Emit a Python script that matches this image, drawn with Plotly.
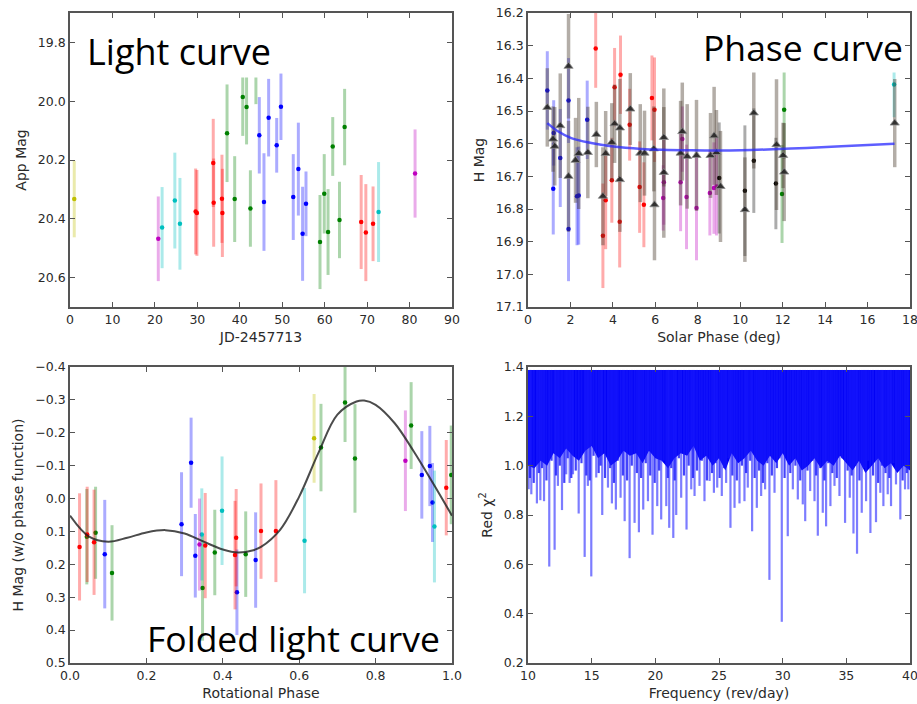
import plotly.graph_objects as go

# ---------------- Light curve: apparent magnitude vs. date ----------------
lc_jd = [1.0, 20.8, 21.7, 24.7, 25.9, 29.6, 29.9, 33.75, 33.85, 35.8, 35.9, 37.0, 38.8,
         40.7, 41.6, 42.5, 43.8, 44.6, 45.7, 46.8, 48.7, 49.7, 52.6, 53.8, 54.8, 55.6,
         58.9, 59.9, 60.8, 61.9, 63.5, 64.7, 68.6, 69.7, 71.4, 72.7, 81.3]
lc_mag = [20.333, 20.468, 20.43, 20.338, 20.417, 20.375, 20.38, 20.21, 20.345, 20.332,
          20.38, 20.109, 20.333, 19.986, 20.02, 20.365, 19.90, 20.116, 20.343, 20.056,
          20.15, 20.019, 20.326, 20.231, 20.451, 20.349, 20.479, 20.315, 20.445, 20.154,
          20.404, 20.088, 20.411, 20.447, 20.417, 20.377, 20.246]
lc_err = [0.13, 0.144, 0.138, 0.163, 0.156, 0.146, 0.146, 0.15, 0.15, 0.15, 0.15, 0.166,
          0.146, 0.132, 0.127, 0.13, 0.11, 0.13, 0.166, 0.132, 0.093, 0.113, 0.146, 0.158,
          0.16, 0.11, 0.16, 0.135, 0.146, 0.10, 0.13, 0.13, 0.16, 0.165, 0.127, 0.17, 0.15]
lc_band = ["y", "m", "c", "c", "c", "r", "r", "r", "r", "r", "r", "g", "g", "g", "g", "g",
           "g", "b", "b", "b", "b", "b", "b", "b", "b", "b", "g", "g", "g", "g", "g", "g",
           "r", "r", "r", "c", "m"]

# ---------------- Phase curve: reduced magnitude vs. solar phase ----------------
tri_alpha = [0.91, 1.18, 1.26, 1.52, 1.91, 1.91, 2.24, 2.39, 2.82, 3.22, 3.53, 3.66, 3.95,
             4.08, 4.33, 4.33, 4.82, 5.29, 5.49, 5.93, 5.96, 6.40, 6.40, 7.19, 7.27, 7.5,
             7.94, 8.60, 8.77, 8.88, 9.07, 10.22, 10.64, 11.71, 12.02, 12.07, 17.28]
tri_h = [16.489, 16.586, 16.608, 16.545, 16.363, 16.70, 16.651, 16.63, 16.627, 16.572,
         16.761, 16.63, 16.596, 16.539, 16.552, 16.71, 16.494, 16.629, 16.629, 16.616,
         16.787, 16.581, 16.688, 16.629, 16.563, 16.639, 16.636, 16.636, 16.576, 16.627,
         16.731, 16.802, 16.506, 16.603, 16.636, 16.687, 16.537]
tri_err = [0.12, 0.1, 0.12, 0.16, 0.16, 0.17, 0.13, 0.17, 0.14, 0.1, 0.15, 0.13, 0.12,
           0.12, 0.15, 0.16, 0.11, 0.15, 0.13, 0.13, 0.17, 0.15, 0.2, 0.16, 0.15, 0.16,
           0.17, 0.13, 0.15, 0.13, 0.17, 0.16, 0.17, 0.2, 0.1, 0.15, 0.135]

obs_alpha = [0.91, 1.21, 1.19, 1.52, 1.91, 1.91, 2.31, 2.39, 2.79,
             3.19, 3.53, 3.66, 3.95, 4.08, 4.36, 4.32, 4.79, 5.26, 5.46, 5.84, 5.96,
             6.37, 6.40, 7.19, 7.27, 7.47, 7.94, 8.57, 8.76, 8.88,
             11.97, 12.07, 17.25, 9.01, 10.22, 10.64, 11.68]
obs_h = [16.437, 16.567, 16.738, 16.644, 16.468, 16.861, 16.761, 16.759, 16.527,
         16.309, 16.882, 16.773, 16.712, 16.427, 16.389, 16.839, 16.542, 16.733, 16.787,
         16.46, 16.496,
         16.766, 16.718, 16.718, 16.586, 16.763, 16.797, 16.751, 16.736, 16.731,
         16.754, 16.496, 16.419, 16.705, 16.744, 16.652, 16.722]
obs_err = [0.12, 0.1, 0.14, 0.15, 0.13, 0.16, 0.15, 0.15, 0.12,
           0.12, 0.16, 0.15, 0.13, 0.12, 0.12, 0.14, 0.11, 0.14, 0.13, 0.13, 0.16,
           0.1, 0.13, 0.15, 0.1, 0.16, 0.16, 0.13, 0.14, 0.15,
           0.15, 0.15, 0.1, 0.17, 0.2, 0.16, 0.14]
obs_band = ["b"] * 9 + ["r"] * 12 + ["m"] * 9 + ["g", "g", "c", "k", "k", "k", "k"]

hg_alpha = [0.91, 1.41, 2.04, 2.98, 3.92, 5.34, 7.7, 10.05, 12.4, 14.76, 17.27]
hg_h = [16.537, 16.562, 16.583, 16.598, 16.608, 16.616, 16.620, 16.620, 16.615, 16.608, 16.600]

# ---------------- Folded light curve ----------------
fold_phase = [0.025, 0.044, 0.045, 0.063, 0.067, 0.091, 0.11, 0.292, 0.317, 0.328, 0.339,
              0.345, 0.347, 0.354, 0.379, 0.398, 0.432, 0.435, 0.437, 0.46, 0.486, 0.5,
              0.539, 0.614, 0.639, 0.657, 0.72, 0.746, 0.878, 0.893, 0.921, 0.942, 0.949,
              0.954, 0.985, 0.998]
fold_mag = [0.147, 0.116, 0.109, 0.133, 0.104, 0.169, 0.226, 0.078, -0.109, 0.174, 0.14,
            0.109, 0.272, 0.143, 0.164, 0.037, 0.172, 0.119, 0.285, 0.169, 0.187, 0.099,
            0.099, 0.128, -0.183, -0.155, -0.292, -0.122, -0.115, -0.222, -0.072, -0.099,
            0.012, 0.085, -0.033, -0.072]
fold_err = [0.163, 0.145, 0.145, 0.16, 0.14, 0.165, 0.145, 0.158, 0.137, 0.127, 0.14,
            0.14, 0.16, 0.16, 0.13, 0.165, 0.165, 0.148, 0.13, 0.13, 0.145, 0.145, 0.155,
            0.16, 0.135, 0.133, 0.12, 0.165, 0.153, 0.132, 0.133, 0.122, 0.12, 0.17,
            0.145, 0.15]
fold_band = ["r", "g", "r", "r", "g", "b", "g", "b", "b", "b", "m", "c", "g", "r", "g",
             "c", "r", "r", "b", "g", "b", "r", "r", "c", "y", "g", "g", "g", "m", "g",
             "b", "b", "b", "c", "r", "g"]

model_phase = [0, 0.05, 0.1, 0.15, 0.2, 0.25, 0.3, 0.35, 0.4, 0.44, 0.48, 0.5, 0.55, 0.6,
               0.65, 0.7, 0.75, 0.77, 0.8, 0.85, 0.9, 0.95, 1.0]
model_mag = [0.052, 0.116, 0.131, 0.119, 0.103, 0.096, 0.106, 0.131, 0.155, 0.164, 0.157,
             0.147, 0.095, -0.006, -0.138, -0.255, -0.295, -0.298, -0.285, -0.229, -0.143,
             -0.047, 0.052]

# ---------------- Periodogram: reduced chi-square vs. trial frequency ----------------
# Saturated core of the trace (floor of the dense band)
core_freq = [10, 10.5, 11, 11.5, 12, 12.5, 13, 13.5, 14, 14.5, 15, 15.5, 16, 16.5, 17,
             17.5, 18, 18.5, 19, 19.5, 20, 20.5, 21, 21.5, 22, 22.5, 23, 23.5, 24, 24.5,
             25, 25.5, 26, 26.5, 27, 27.5, 28, 28.5, 29, 29.5, 30, 30.5, 31, 31.5, 32,
             32.5, 33, 33.5, 34, 34.5, 35, 35.5, 36, 36.5, 37, 37.5, 38, 38.5, 39, 39.5, 40]
core_floor = [1.0, 0.99, 1.02, 1.0, 1.05, 1.03, 1.07, 1.04, 1.02, 1.06, 1.08, 1.03, 1.05,
              1.0, 1.02, 1.06, 1.04, 1.05, 1.01, 1.06, 1.03, 1.02, 0.99, 1.03, 1.05, 1.04,
              1.08, 1.02, 1.04, 1.0, 1.03, 0.98, 1.05, 1.01, 1.03, 1.06, 1.02, 1.0, 1.04,
              1.01, 1.05, 1.0, 1.03, 0.98, 1.0, 1.03, 0.99, 1.02, 1.0, 1.04, 1.01, 0.98,
              1.02, 0.97, 1.0, 1.03, 0.99, 1.01, 0.97, 1.0, 0.98]
core_top = 1.388
# Deep minima of the trace
dip_freq = [10.05, 10.26, 10.7, 10.97, 11.26, 11.67, 12.09, 12.35, 12.67, 13.0, 13.27,
            13.53, 13.98, 14.45, 14.7, 14.97, 15.36, 15.83, 16.28, 16.59, 16.9, 17.27,
            17.59, 17.98, 18.37, 18.71, 19.05, 19.42, 19.78, 20.15, 20.46, 20.86, 21.09,
            21.41, 21.64, 22.03, 22.45, 22.82, 23.08, 23.47, 23.86, 24.26, 24.6, 24.86,
            25.22, 25.56, 25.9, 26.22, 26.61, 27.0, 27.26, 27.6, 27.97, 28.31, 28.62,
            28.96, 29.36, 29.93, 30.4, 30.8, 31.19, 31.58, 31.77, 32.16, 32.5, 32.76,
            33.15, 33.41, 33.75, 34.07, 34.46, 34.9, 35.27, 35.56, 35.84, 36.21, 36.55,
            36.89, 37.33, 37.67, 37.91, 38.25, 38.51, 38.9, 39.24, 39.61, 39.87]
dip_chi2 = [0.904, 0.884, 0.847, 0.86, 0.856, 0.591, 0.659, 0.918, 0.82, 0.965, 0.93,
            0.965, 0.806, 0.63, 0.918, 0.551, 0.952, 0.80, 0.911, 0.847, 0.822, 0.87,
            0.775, 0.625, 0.768, 0.73, 0.822, 0.856, 0.72, 0.836, 0.782, 0.836, 0.748,
            0.707, 0.80, 0.87, 0.741, 0.904, 0.877, 0.918, 0.856, 0.938, 0.89, 0.911,
            0.877, 0.93, 0.748, 0.829, 0.847, 0.856, 0.911, 0.734, 0.829, 0.877, 0.904,
            0.537, 0.89, 0.367, 0.714, 0.904, 0.863, 0.843, 0.775, 0.897, 0.856, 0.716,
            0.809, 0.754, 0.836, 0.918, 0.877, 0.768, 0.87, 0.725, 0.643, 0.809, 0.856,
            0.727, 0.771, 0.89, 0.836, 0.884, 0.836, 0.924, 0.782, 0.904, 0.904]
# Shallower minima between the deep ones
mid_freq = [10.15, 10.45, 10.85, 11.1, 11.45, 11.85, 12.2, 12.5, 12.85, 13.12, 13.4,
            13.75, 14.2, 14.58, 14.85, 15.15, 15.55, 15.7, 16.05, 16.45, 16.75, 17.05,
            17.45, 17.78, 18.15, 18.55, 18.88, 19.25, 19.6, 19.95, 20.3, 20.65, 20.98,
            21.25, 21.52, 21.85, 22.25, 22.62, 22.95, 23.27, 23.65, 24.05, 24.45, 24.73,
            25.05, 25.4, 25.75, 26.05, 26.4, 26.8, 27.13, 27.45, 27.8, 28.15, 28.45, 28.8,
            29.15, 29.55, 29.75, 30.15, 30.6, 31.0, 31.38, 31.95, 32.33, 32.63, 32.95,
            33.28, 33.58, 33.9, 34.25, 34.68, 35.1, 35.42, 35.7, 36.03, 36.38, 36.72, 37.1,
            37.5, 37.8, 38.08, 38.38, 38.7, 39.07, 39.42, 39.75]
mid_chi2 = [0.95, 0.93, 0.97, 0.99, 0.94, 1.02, 0.96, 1.0, 0.93, 1.03, 0.95, 0.98, 1.01,
            0.96, 0.94, 1.04, 0.97, 1.0, 0.95, 0.99, 0.93, 1.02, 0.96, 0.94, 1.0, 0.97,
            0.95, 1.01, 0.96, 0.93, 0.98, 1.02, 0.95, 0.99, 0.94, 1.03, 0.96, 1.0, 0.95,
            0.98, 1.02, 0.94, 0.97, 1.01, 0.95, 0.99, 1.03, 0.96, 0.94, 1.0, 0.97, 1.02,
            0.95, 0.98, 0.93, 1.01, 0.96, 0.99, 1.03, 0.95, 0.97, 1.0, 0.94, 0.98, 1.02,
            0.96, 0.99, 0.94, 1.01, 0.97, 0.95, 1.03, 0.98, 0.96, 1.0, 0.94, 0.99, 1.02,
            0.96, 0.93, 1.0, 0.97, 0.95, 1.01, 0.98, 0.94, 0.97]

BAND_RGB = {"b": (0, 0, 255), "g": (0, 128, 0), "r": (255, 0, 0), "c": (0, 191, 191),
            "m": (191, 0, 191), "y": (191, 191, 0), "k": (0, 0, 0)}


def rgba(key, a):
    r, g, b = BAND_RGB[key]
    return f"rgba({r},{g},{b},{a})"


def add_errorbar_groups(fig, xs, ys, errs, bands, xref, yref, bar_alpha=0.33, size=4.5):
    for key in BAND_RGB:
        idx = [i for i, k in enumerate(bands) if k == key]
        if not idx:
            continue
        fig.add_trace(go.Scatter(
            x=[xs[i] for i in idx], y=[ys[i] for i in idx], mode="markers",
            marker=dict(color=rgba(key, 1), size=size),
            error_y=dict(type="data", array=[errs[i] for i in idx], visible=True,
                         color=rgba(key, bar_alpha), thickness=3, width=0),
            xaxis=xref, yaxis=yref, showlegend=False, hoverinfo="x+y"))


def spike_path(freqs, values, top):
    xs, ys = [], []
    for f, v in zip(freqs, values):
        xs += [f, f, None]
        ys += [top, v, None]
    return xs, ys


fig = go.Figure()

# Light curve
add_errorbar_groups(fig, lc_jd, lc_mag, lc_err, lc_band, "x", "y")

# Phase curve: per-band measurements, reduced triangles, fitted phase function
add_errorbar_groups(fig, obs_alpha, obs_h, obs_err, obs_band, "x2", "y2")
fig.add_trace(go.Scatter(
    x=tri_alpha, y=tri_h, mode="markers",
    marker=dict(symbol="triangle-up", size=8, color="rgba(35,35,35,0.9)",
                line=dict(color="rgba(140,140,140,0.8)", width=1)),
    error_y=dict(type="data", array=tri_err, visible=True,
                 color="rgba(75,60,45,0.42)", thickness=3.5, width=0),
    xaxis="x2", yaxis="y2", showlegend=False))
fig.add_trace(go.Scatter(
    x=hg_alpha, y=hg_h, mode="lines", line=dict(color="rgba(40,40,255,0.75)", width=2.5,
                                                shape="spline"),
    xaxis="x2", yaxis="y2", showlegend=False))

# Folded light curve
add_errorbar_groups(fig, fold_phase, fold_mag, fold_err, fold_band, "x3", "y3")
fig.add_trace(go.Scatter(
    x=model_phase, y=model_mag, mode="lines",
    line=dict(color="rgba(30,30,30,0.8)", width=2, shape="spline", smoothing=1.0),
    xaxis="x3", yaxis="y3", showlegend=False))

# Periodogram: dense core of the chi-square trace plus its minima
fig.add_trace(go.Scatter(
    x=core_freq + core_freq[::-1], y=[core_top] * len(core_freq) + core_floor[::-1],
    fill="toself", fillcolor="rgb(0,0,245)", mode="lines", line=dict(width=0),
    xaxis="x4", yaxis="y4", showlegend=False, hoverinfo="skip"))
mx, my = spike_path(mid_freq, mid_chi2, core_top)
fig.add_trace(go.Scatter(
    x=mx, y=my, mode="lines", line=dict(color="rgba(20,20,250,0.8)", width=2.2),
    xaxis="x4", yaxis="y4", showlegend=False))
sx, sy = spike_path(dip_freq, dip_chi2, core_top)
fig.add_trace(go.Scatter(
    x=sx, y=sy, mode="lines", line=dict(color="rgba(30,30,255,0.58)", width=2.2),
    xaxis="x4", yaxis="y4", showlegend=False))

FONT = "DejaVu Sans"
axis_common = dict(showline=True, linecolor="#555555", linewidth=1.6, mirror="allticks",
                   ticks="inside", ticklen=5, tickwidth=1, tickcolor="#555555",
                   showgrid=False, zeroline=False, automargin=False,
                   ticklabeloverflow="allow",
                   tickfont=dict(family=FONT, size=12.5, color="#2a2a2a"))
title_font = dict(family=FONT, size=14, color="#2a2a2a")

xl = [70 / 917, 452 / 917]
xr = [528 / 917, 910 / 917]
yt = [(704 - 307) / 704, (704 - 13) / 704]
yb = [(704 - 663) / 704, (704 - 367) / 704]

fig.update_layout(
    width=917, height=704, margin=dict(l=0, r=0, t=0, b=0),
    paper_bgcolor="white", plot_bgcolor="white",
    xaxis=dict(axis_common, domain=xl, anchor="y", range=[0, 90], dtick=10,
               title=dict(text="JD-2457713", font=title_font, standoff=6)),
    yaxis=dict(axis_common, domain=yt, anchor="x", range=[20.7, 19.7],
               tickvals=[19.8, 20.0, 20.2, 20.4, 20.6], tickformat=".1f",
               title=dict(text="App Mag", font=title_font, standoff=8)),
    xaxis2=dict(axis_common, domain=xr, anchor="y2", range=[0, 18], dtick=2,
                title=dict(text="Solar Phase (deg)", font=title_font, standoff=6)),
    yaxis2=dict(axis_common, domain=yt, anchor="x2", range=[17.1, 16.2], dtick=0.1,
                tickformat=".1f",
                title=dict(text="H Mag", font=title_font, standoff=8)),
    xaxis3=dict(axis_common, domain=xl, anchor="y3", range=[0, 1], dtick=0.2,
                tickformat=".1f",
                title=dict(text="Rotational Phase", font=title_font, standoff=6)),
    yaxis3=dict(axis_common, domain=yb, anchor="x3", range=[0.5, -0.4], dtick=0.1,
                tickformat=".1f",
                title=dict(text="H Mag (w/o phase function)", font=title_font, standoff=8)),
    xaxis4=dict(axis_common, domain=xr, anchor="y4", range=[10, 40], dtick=5,
                title=dict(text="Frequency (rev/day)", font=title_font, standoff=6)),
    yaxis4=dict(axis_common, domain=yb, anchor="x4", range=[0.2, 1.4], dtick=0.2,
                tickformat=".1f",
                title=dict(text="Red χ<sup>2</sup>", font=title_font, standoff=8)),
)

# Panel captions
fig.add_annotation(text="Light curve", xref="paper", yref="paper", x=85 / 917,
                   y=1 - 25 / 704, xanchor="left", yanchor="top", showarrow=False,
                   font=dict(family="Open Sans", size=36, color="black"), bgcolor="white")
fig.add_annotation(text="Phase curve", xref="paper", yref="paper", x=905 / 917,
                   y=1 - 21 / 704, xanchor="right", yanchor="top", showarrow=False,
                   font=dict(family="Open Sans", size=35.5, color="black"), bgcolor="white")
fig.add_annotation(text="Folded light curve", xref="paper", yref="paper", x=442 / 917,
                   y=1 - 612 / 704, xanchor="right", yanchor="top", showarrow=False,
                   font=dict(family="Open Sans", size=35.5, color="black"))

fig.write_html("out.html")
